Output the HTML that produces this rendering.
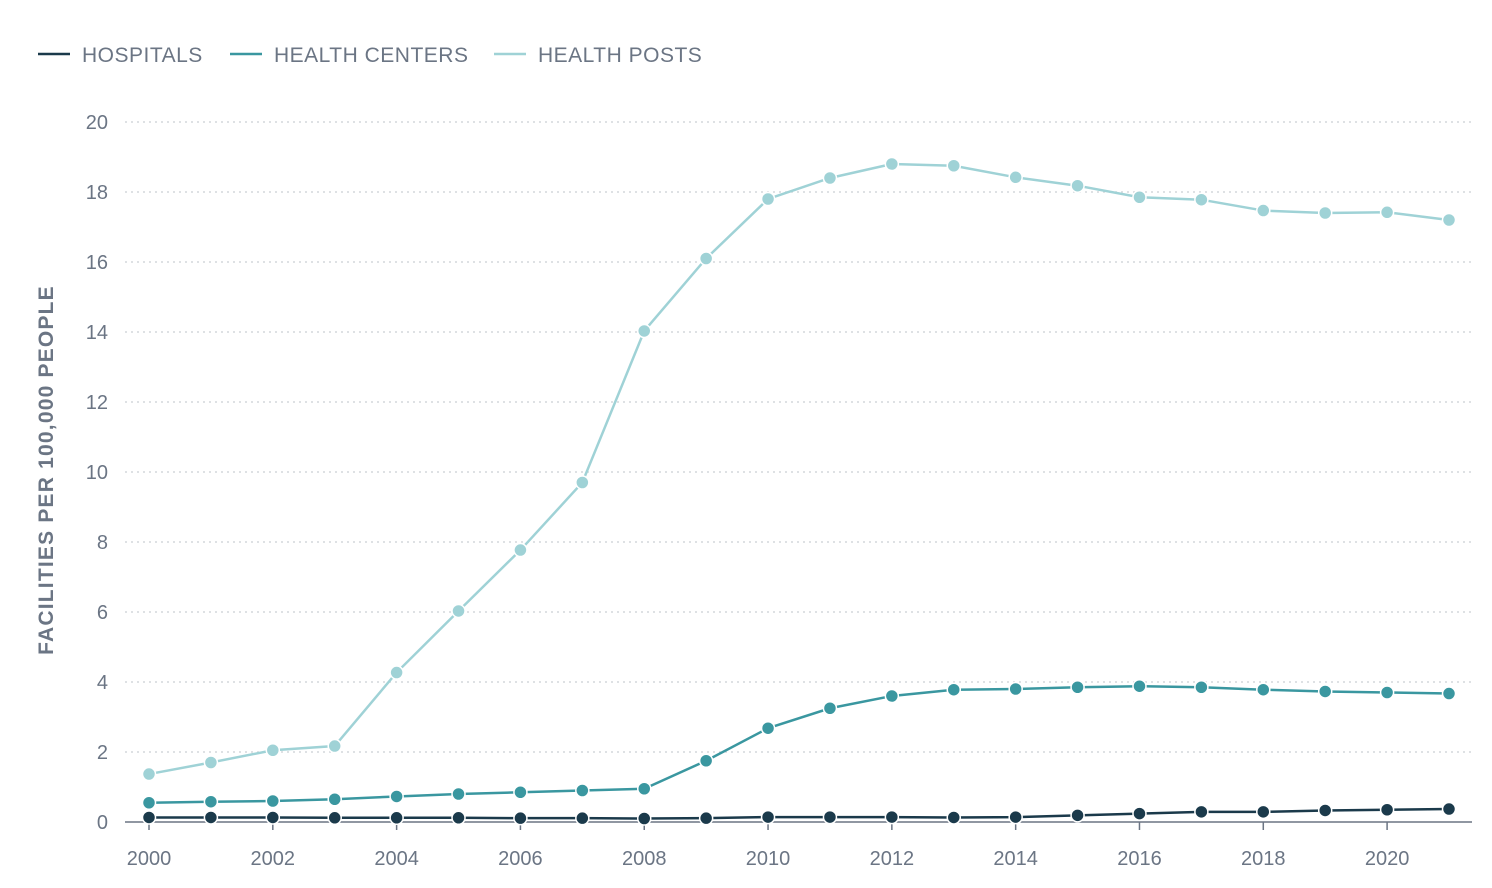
<!DOCTYPE html>
<html><head><meta charset="utf-8"><style>
body{margin:0;background:#fff;width:1492px;height:883px;overflow:hidden;font-family:"Liberation Sans",sans-serif}
svg text{font-family:"Liberation Sans",sans-serif}
</style></head><body>
<svg id="chart" width="1492" height="883" viewBox="0 0 1492 883">
<g id="legend"></g>
<g id="grid"></g>
<g id="axes"></g>
<g id="series"></g>
<text transform="translate(53,470) rotate(-90)" text-anchor="middle" font-size="21" font-weight="bold" fill="#6b7584" letter-spacing="1.2">FACILITIES PER 100,000 PEOPLE</text>
</svg>
<script>
const years=[2000,2001,2002,2003,2004,2005,2006,2007,2008,2009,2010,2011,2012,2013,2014,2015,2016,2017,2018,2019,2020,2021];
const hospitals=[0.13,0.13,0.13,0.12,0.12,0.12,0.11,0.11,0.1,0.11,0.14,0.14,0.14,0.13,0.14,0.19,0.24,0.29,0.29,0.33,0.35,0.37];
const healthCenters=[0.55,0.58,0.6,0.65,0.73,0.8,0.85,0.9,0.95,1.75,2.68,3.25,3.6,3.78,3.8,3.85,3.88,3.85,3.78,3.73,3.7,3.67];
const healthPosts=[1.37,1.7,2.05,2.17,4.27,6.03,7.77,9.7,14.03,16.1,17.8,18.4,18.8,18.75,18.42,18.18,17.85,17.78,17.47,17.4,17.42,17.2];
const yTicks=[0,2,4,6,8,10,12,14,16,18,20];
const xTicks=[2000,2002,2004,2006,2008,2010,2012,2014,2016,2018,2020];
const seriesNames=["HOSPITALS","HEALTH CENTERS","HEALTH POSTS"];
const NS="http://www.w3.org/2000/svg";
const X=v=>149+(v-2000)*(1300/21);
const Y=v=>822-v*35;
function mk(tag,attrs,parent){const e=document.createElementNS(NS,tag);for(const k in attrs)e.setAttribute(k,attrs[k]);parent.appendChild(e);return e;}
const grid=document.getElementById('grid'),axes=document.getElementById('axes'),ser=document.getElementById('series'),leg=document.getElementById('legend');
yTicks.forEach(t=>{
 if(t>0){const l=mk('line',{x1:125,x2:1472,y1:Y(t),y2:Y(t),stroke:'#d3d7dc','stroke-width':1.5,'stroke-dasharray':'2 4'},grid);
 
 }
 const tx=mk('text',{x:108,y:Y(t)+7,'text-anchor':'end','font-size':20,fill:'#6b7584'},axes);tx.textContent=t;
 
 
});
const ax=mk('line',{x1:125,x2:1472,y1:822,y2:822,stroke:'#6b7584','stroke-width':1.5},axes);


xTicks.forEach(t=>{
 const tk=mk('line',{x1:X(t),x2:X(t),y1:822,y2:830,stroke:'#6b7584','stroke-width':1.5},axes);
 
 
 const tx=mk('text',{x:X(t),y:865,'text-anchor':'middle','font-size':20,fill:'#6b7584'},axes);tx.textContent=t;
 
 
});
const colors=['#1b3a4b','#3a97a0','#9fd2d6'];
[healthPosts,healthCenters,hospitals].forEach((arr,i)=>{
 const ci=2-i;const g=mk('g',{},ser);
 
 
 const p=mk('polyline',{points:arr.map((v,j)=>X(years[j])+','+Y(v)).join(' '),fill:'none',stroke:colors[ci],'stroke-width':2.5},g);
 
 
 arr.forEach((v,j)=>{const c=mk('circle',{cx:X(years[j]),cy:Y(v),r:6.5,fill:colors[ci],stroke:'#fff','stroke-width':1.5},g);
 
 });
});
const lx=[38,230,494];
seriesNames.forEach((n,i)=>{
 const g=mk('g',{},leg);
 
 
 mk('line',{x1:lx[i],x2:lx[i]+32,y1:54,y2:54,stroke:colors[i],'stroke-width':2.5},g);
 const t=mk('text',{x:lx[i]+44,y:62,'font-size':21,fill:'#6b7584','letter-spacing':0.5},g);t.textContent=n;
});
</script>
</body></html>
